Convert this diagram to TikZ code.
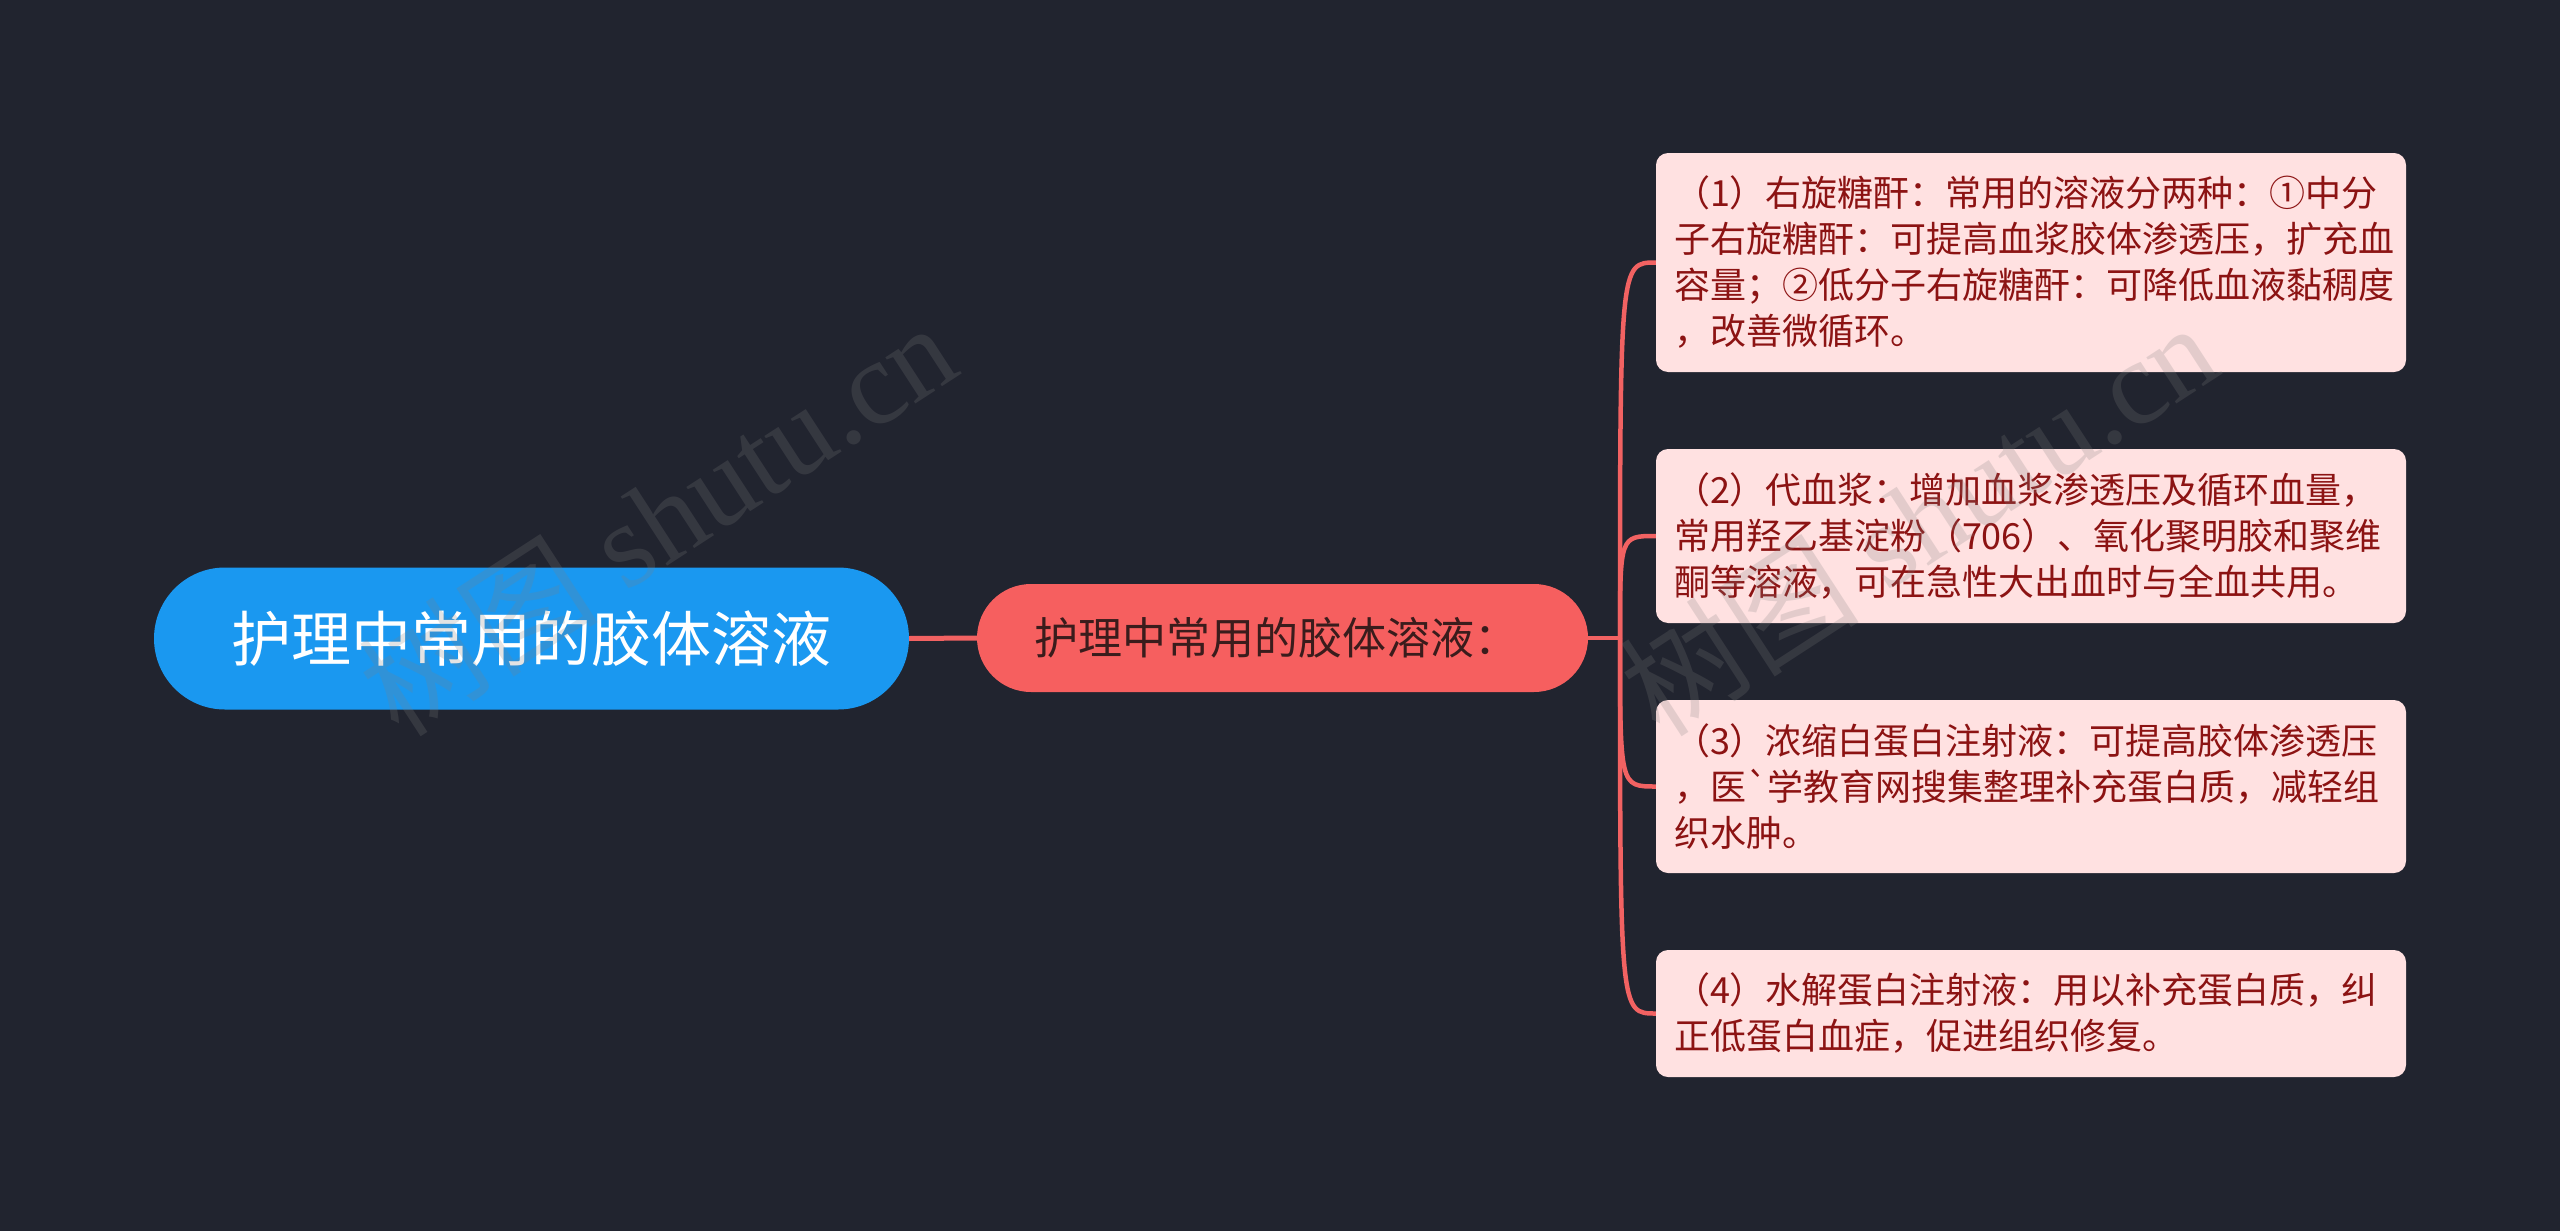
\documentclass[tikz,border=0pt]{standalone}
\usepackage{fontspec}
\newfontfamily\cjk{Noto Sans CJK SC}
\newfontfamily\wmserif{Liberation Serif}
\definecolor{bgc}{HTML}{21242F}
\definecolor{rootc}{HTML}{1A98F0}
\definecolor{subc}{HTML}{F65F5F}
\definecolor{linec}{HTML}{F26262}
\definecolor{leafc}{HTML}{FFE1E1}
\definecolor{leaftext}{HTML}{8C1313}
\definecolor{subtext}{HTML}{3A1C1C}
\tikzset{
  rootbox/.style={fill=rootc, rounded corners=71pt, minimum width=755pt, minimum height=142pt, inner sep=0pt, text=white, font=\cjk\fontsize{60}{72}\selectfont},
  subbox/.style={fill=subc, rounded corners=54pt, minimum width=611pt, minimum height=108pt, inner sep=0pt, text=subtext, font=\cjk\fontsize{44}{54}\selectfont},
  leafbox/.style={fill=leafc, rounded corners=12pt, text width=714pt, inner xsep=18pt, inner ysep=0pt, align=left, text=leaftext, font=\cjk\fontsize{36}{46}\selectfont},
  conn/.style={draw=linec, line width=4.5pt},
  wm/.style={text=gray, opacity=0.22, font=\wmserif\fontsize{120}{130}\selectfont, inner sep=0pt}
}
\begin{document}
\begin{tikzpicture}[x=1pt,y=-1pt]
\fill[bgc] (0,0) rectangle (2560,1231);
\useasboundingbox (0,0) rectangle (2560,1231);

\node[rootbox] (root) at (531.5,638.5) {护理中常用的胶体溶液};
\node[subbox] (sub) at (1282.5,638) {\hspace*{-12pt}护理中常用的胶体溶液：};

\node[leafbox, minimum height=219pt] (l1) at (2031,262.5) {（1）右旋糖酐：常用的溶液分两种：①中分\\子右旋糖酐：可提高血浆胶体渗透压，扩充血\\容量；②低分子右旋糖酐：可降低血液黏稠度\\，改善微循环。};
\node[leafbox, minimum height=174pt] (l2) at (2031,536) {（2）代血浆：增加血浆渗透压及循环血量，\\常用羟乙基淀粉（706）、氧化聚明胶和聚维\\酮等溶液，可在急性大出血时与全血共用。};
\node[leafbox, minimum height=173pt] (l3) at (2031,786.5) {（3）浓缩白蛋白注射液：可提高胶体渗透压\\，医\char"0060 学教育网搜集整理补充蛋白质，减轻组\\织水肿。};
\node[leafbox, minimum height=127pt] (l4) at (2031,1013.5) {（4）水解蛋白注射液：用以补充蛋白质，纠\\正低蛋白血症，促进组织修复。};

\coordinate (fork) at (1620,638);
\draw[conn, line width=5pt] (root.east) -- (sub.west);
\draw[conn] (sub.east) -- (fork);
\foreach \l in {l1,l2,l3,l4}{
  \draw[conn] (fork) .. controls (fork |- \l.west) .. (\l.west);
}

\node[wm, rotate=33] (wm1) at (657,518) {{\cjk 树图} shutu.cn};
\node[wm, rotate=33] (wm2) at (1918,518) {{\cjk 树图} shutu.cn};
\end{tikzpicture}
\end{document}
